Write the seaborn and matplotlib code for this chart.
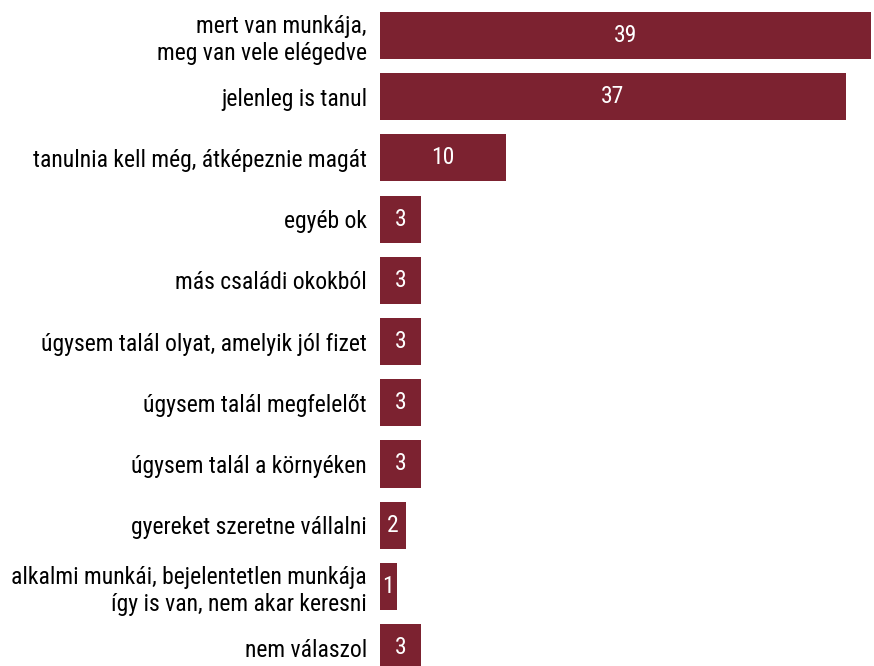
import matplotlib.pyplot as plt
import pandas as pd
import seaborn as sns

CATEGORIES = [
    "mert van munkája,\nmeg van vele elégedve",
    "jelenleg is tanul",
    "tanulnia kell még, átképeznie magát",
    "egyéb ok",
    "más családi okokból",
    "úgysem talál olyat, amelyik jól fizet",
    "úgysem talál megfelelőt",
    "úgysem talál a környéken",
    "gyereket szeretne vállalni",
    "alkalmi munkái, bejelentetlen munkája\nígy is van, nem akar keresni",
    "nem válaszol",
]
# bar lengths, labels are the rounded figures shown
VALUES = [39.0, 37.0, 10.0, 3.3, 3.3, 3.3, 3.3, 3.3, 2.1, 1.4, 3.3]
LABELS = ["39", "37", "10", "3", "3", "3", "3", "3", "2", "1", "3"]

BAR_COLOR = "#7C2230"

sns.set_style("white")
plt.rcParams["font.family"] = ["Roboto Condensed", "Liberation Sans", "DejaVu Sans"]

data = pd.DataFrame({"reason": CATEGORIES, "share": VALUES})

fig = plt.figure(figsize=(8.74, 6.66), dpi=100)
ax = fig.add_axes([379.5 / 874, 0.0, (871 - 379.5) / 874, 1.0])

sns.barplot(data=data, x="share", y="reason", orient="h", color=BAR_COLOR,
            width=0.77, saturation=1, linewidth=0, ax=ax)

for bar, lab in zip(ax.patches, LABELS):
    ax.text(bar.get_x() + bar.get_width() / 2, bar.get_y() + bar.get_height() / 2,
            lab, color="white", ha="center", va="center", fontsize=17)

ax.set_xlim(0, 39)
ax.set_ylim(10.30, -0.58)
ax.set_xlabel("")
ax.set_ylabel("")
ax.set_xticks([])
ax.tick_params(axis="y", length=0, pad=9, labelsize=17, labelcolor="black")
for lbl in ax.get_yticklabels():
    lbl.set_linespacing(1.2)
sns.despine(ax=ax, left=True, bottom=True)

fig.savefig("out.png", dpi=100)
plt.close()
